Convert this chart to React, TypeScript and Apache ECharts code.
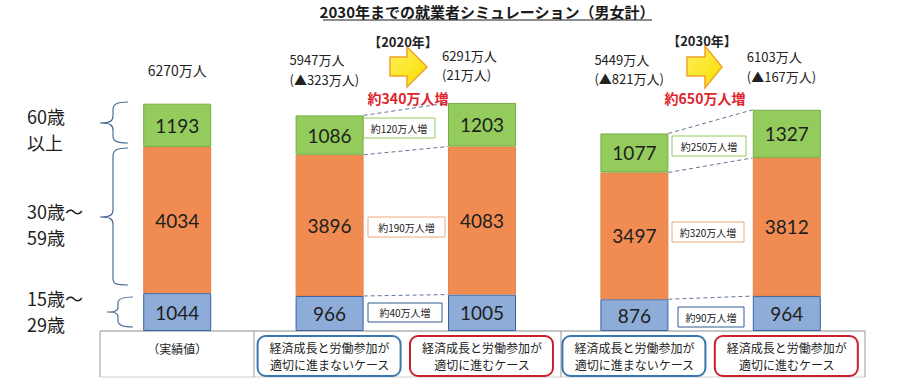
import React, { useEffect, useRef } from "react";
import * as echarts from "echarts";

const categories = ["実績値", "2020年・不", "2020年・適", "2030年・不", "2030年・適"];
const age15to29 = [1044, 966, 1005, 876, 964];
const age30to59 = [4034, 3896, 4083, 3497, 3812];
const age60plus = [1193, 1086, 1203, 1077, 1327];
const totalLabels = ["6270万人", "5947万人", "6291万人", "5449万人", "6103万人"];
const changeLabels = ["", "(▲323万人)", "(21万人)", "(▲821万人)", "(▲167万人)"];
const yearLabels = ["【2020年】", "【2030年】"];
const increaseLabels = ["約340万人増", "約650万人増"];
const segmentIncrease2020 = ["約40万人増", "約190万人増", "約120万人増"];
const segmentIncrease2030 = ["約90万人増", "約320万人増", "約250万人増"];
const caseLabels = ["（実績値）", "経済成長と労働参加が\n適切に進まないケース", "経済成長と労働参加が\n適切に進むケース"];
const ageLabels = ["60歳\n以上", "30歳～\n59歳", "15歳～\n29歳"];

const TITLE = "2030年までの就業者シミュレーション（男女計）";
const CJK = '"Noto Sans CJK JP", "Noto Sans", sans-serif';

echarts.graphic.registerShape(
  "brace1",
  echarts.graphic.extendPath(
    "M128,102 C117,102 113,104 113,110 L113,116 C113,121 110,123 100,123 C110,123 113,125 113,130 L113,136 C113,141 117,143 128,143",
    {}
  )
);
echarts.graphic.registerShape(
  "brace2",
  echarts.graphic.extendPath(
    "M128,148 C117,148 113,150 113,156 L113,210 C113,215 110,217 100,217 C110,217 113,219 113,224 L113,279 C113,284 117,285 128,285",
    {}
  )
);
echarts.graphic.registerShape(
  "brace3",
  echarts.graphic.extendPath(
    "M133,297 C122,297 118,299 118,303 L118,307 C118,311 115,312 107,312 C115,312 118,313 118,317 L118,321 C118,325 122,327 133,327",
    {}
  )
);

const txt = (text: string, x: number, y: number, opts: any = {}) => ({
  type: "text",
  x,
  y,
  z: 10,
  style: {
    text,
    fill: opts.fill || "#222",
    fontSize: opts.fontSize || 14,
    fontFamily: opts.fontFamily || CJK,
    fontWeight: opts.fontWeight || "normal",
    textAlign: opts.align || "left",
    align: opts.align || "left",
    textVerticalAlign: "middle",
    verticalAlign: "middle",
    lineHeight: opts.lineHeight,
  },
});

export default function App() {
  const ref = useRef<HTMLDivElement>(null);
  useEffect(() => {
    if (!ref.current) return;
    const chart = echarts.init(ref.current, null, { renderer: "svg" });
    const labelStyle = {
      show: true,
      position: "inside",
      fontSize: 19,
      fontFamily: "Lato, sans-serif",
      color: "#1e1e1e",
    };
    chart.setOption({
      animation: false,
      backgroundColor: "#ffffff",
      grid: { left: 101, right: 40, top: 41, bottom: 57 },
      xAxis: {
        type: "category",
        data: categories,
        show: false,
      },
      yAxis: { type: "value", min: 0, max: 8000, show: false },
      series: [
        {
          name: "15歳～29歳",
          type: "bar",
          stack: "t",
          barWidth: 68,
          data: age15to29,
          itemStyle: { color: "#8eacd8", borderColor: "#3a62a0", borderWidth: 1 },
          label: labelStyle,
        },
        {
          name: "30歳～59歳",
          type: "bar",
          stack: "t",
          barWidth: 68,
          data: age30to59,
          itemStyle: { color: "#f08c52", borderColor: "#e5844a", borderWidth: 1 },
          label: labelStyle,
        },
        {
          name: "60歳以上",
          type: "bar",
          stack: "t",
          barWidth: 68,
          data: age60plus,
          itemStyle: { color: "#93cb5c", borderColor: "#74ad45", borderWidth: 1 },
          label: labelStyle,
        },
      ],
    });

    const P = (i: number, v: number) => chart.convertToPixel({ gridIndex: 0 }, [i, v]) as number[];
    const half = 34;
    const els: any[] = [];

    // title
    els.push(txt(TITLE, 487, 11, { fontSize: 15, align: "center", fontWeight: "bold", fill: "#1a1a1a" }));
    els.push({ type: "line", shape: { x1: 323, y1: 20, x2: 652, y2: 20 }, style: { stroke: "#1a1a1a", lineWidth: 1 } });

    // age labels
    const ageY = [129, 224, 311];
    ageLabels.forEach((t, k) => els.push(txt(t, 27, ageY[k], { fontSize: 18, lineHeight: 26.5, fill: "#222" })));
    ["brace1", "brace2", "brace3"].forEach((b) =>
      els.push({ type: b, style: { stroke: "#4e6f98", fill: "none", lineWidth: 1.2 } })
    );

    // totals above bars
    const midY = [70, 69.5, 65, 69, 66.5];
    categories.forEach((_, i) => {
      const cx = P(i, 0)[0];
      if (i === 0) {
        els.push(txt(totalLabels[i], cx, midY[i], { fontSize: 14, align: "center" }));
      } else {
        els.push(txt(totalLabels[i] + "\n" + changeLabels[i], cx - 40, midY[i], { fontSize: 13, lineHeight: 19.5 }));
      }
    });

    // arrows
    const arrows = [
      { x0: 390, xb: 407, xt: 427, yTop: 47, yBot: 87, sTop: 57, sBot: 76 },
      { x0: 687, xb: 705, xt: 722, yTop: 46, yBot: 88, sTop: 57, sBot: 76 },
    ];
    arrows.forEach((a) => {
      const my = (a.yTop + a.yBot) / 2;
      els.push({
        type: "polygon",
        shape: {
          points: [
            [a.x0, a.sTop],
            [a.xb, a.sTop],
            [a.xb, a.yTop],
            [a.xt, my],
            [a.xb, a.yBot],
            [a.xb, a.sBot],
            [a.x0, a.sBot],
          ],
        },
        style: {
          fill: new echarts.graphic.LinearGradient(0, 0, 1, 1, [
            { offset: 0, color: "#fff35a" },
            { offset: 1, color: "#f8dc00" },
          ]),
          stroke: "#f0a32a",
          lineWidth: 1.5,
        },
      });
    });
    els.push(txt(yearLabels[0], 403, 41, { fontSize: 13, align: "center", fontWeight: "bold" }));
    els.push(txt(yearLabels[1], 702, 40, { fontSize: 13, align: "center", fontWeight: "bold" }));
    els.push(txt(increaseLabels[0], 408, 98, { fontSize: 14, align: "center", fontWeight: "bold", fill: "#e0242c" }));
    els.push(txt(increaseLabels[1], 705, 98, { fontSize: 14, align: "center", fontWeight: "bold", fill: "#e0242c" }));

    // dashed connectors between bar pairs
    [[1, 2], [3, 4]].forEach(([a, b]) => {
      const levA = [age15to29[a], age15to29[a] + age30to59[a], age15to29[a] + age30to59[a] + age60plus[a]];
      const levB = [age15to29[b], age15to29[b] + age30to59[b], age15to29[b] + age30to59[b] + age60plus[b]];
      levA.forEach((v, k) => {
        const pa = P(a, v);
        const pb = P(b, levB[k]);
        els.push({
          type: "line",
          shape: { x1: pa[0] + half, y1: pa[1], x2: pb[0] - half, y2: pb[1] },
          style: { stroke: "#5f7594", lineWidth: 1, lineDash: [4, 3] },
        });
      });
    });

    // segment increase boxes
    const segColors = ["#2f5a92", "#f0a878", "#93cb5c"];
    const boxes2020 = [
      { x: 368, y: 303, w: 74, h: 19 },
      { x: 368, y: 217, w: 77, h: 20 },
      { x: 363, y: 118, w: 72, h: 20 },
    ];
    const boxes2030 = [
      { x: 678, y: 307, w: 66, h: 20 },
      { x: 672, y: 222, w: 72, h: 20 },
      { x: 672, y: 136, w: 74, h: 20 },
    ];
    [
      [boxes2020, segmentIncrease2020],
      [boxes2030, segmentIncrease2030],
    ].forEach(([bx, lbl]: any) => {
      bx.forEach((b: any, k: number) => {
        els.push({
          type: "rect",
          shape: { x: b.x, y: b.y, width: b.w, height: b.h },
          style: { fill: "#fff", stroke: segColors[k], lineWidth: 1 },
        });
        els.push(txt(lbl[k], b.x + b.w / 2, b.y + b.h / 2, { fontSize: 10, align: "center", fill: "#222" }));
      });
    });

    // bottom table
    const tTop = 331;
    const tBot = 377;
    els.push({ type: "line", shape: { x1: 100, y1: tTop, x2: 865, y2: tTop }, style: { stroke: "#8a8a8a", lineWidth: 1 } });
    els.push({ type: "line", shape: { x1: 100, y1: tBot, x2: 865, y2: tBot }, style: { stroke: "#d0d0d0", lineWidth: 1 } });
    [100, 254, 561, 865].forEach((x) =>
      els.push({ type: "line", shape: { x1: x, y1: tTop, x2: x, y2: tBot }, style: { stroke: "#9a9a9a", lineWidth: 1 } })
    );
    els.push(txt(caseLabels[0], P(0, 0)[0], 348, { fontSize: 12, align: "center", fill: "#222" }));
    [1, 2, 3, 4].forEach((i) => {
      const cx = P(i, 0)[0];
      const red = i % 2 === 0;
      els.push({
        type: "rect",
        shape: { x: cx - 72, y: 336, width: 143, height: 40, r: 8 },
        style: { fill: "#fff", stroke: red ? "#cc1f2c" : "#3b76ae", lineWidth: 2 },
      });
      els.push(txt(caseLabels[red ? 2 : 1], cx, 356, { fontSize: 12, lineHeight: 17.5, align: "center", fill: "#222" }));
    });

    chart.setOption({ graphic: { elements: els } });
    return () => chart.dispose();
  }, []);
  return <div ref={ref} style={{ width: 903, height: 388, position: "absolute", left: 0, top: 0 }} />;
}
